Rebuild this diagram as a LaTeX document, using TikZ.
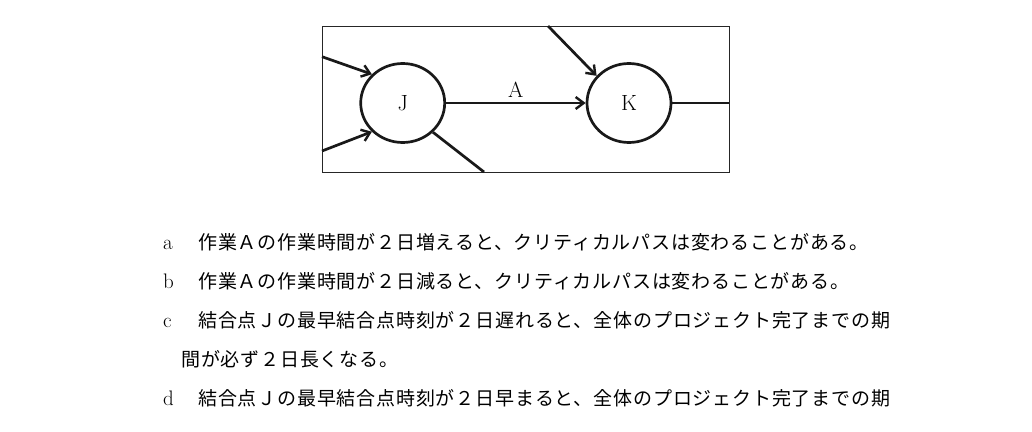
\documentclass[tikz,border=0pt]{standalone}
\usepackage{fontspec}
\usetikzlibrary{arrows.meta,shapes.geometric}
\newfontfamily\jp[LetterSpace=4.3]{Noto Sans CJK JP}
\begin{document}
\begin{tikzpicture}[x=1pt,y=-1pt,
  thick line/.style={line width=2.7pt,draw=black!90},
  arr/.style={thick line,-{Straight Barb[length=8pt,width=12pt,line width=2.4pt]}},
  event/.style={ellipse,thick line,minimum width=84pt,minimum height=79pt,inner sep=0pt,font=\fontsize{22}{24}\selectfont},
  lbl/.style={font=\fontsize{22}{24}\selectfont,inner sep=0pt},
  item/.style={anchor=base west,inner sep=0pt,font=\fontsize{21}{23}\selectfont},
  txt/.style={anchor=base west,inner sep=0pt,font=\fontsize{19}{21}\selectfont\jp}]
\useasboundingbox[fill=white] (0,0) rectangle (1032,431);
% frame
\node[draw=black!85,line width=1.3pt,minimum width=407pt,minimum height=146pt,inner sep=0pt,anchor=north west] (frame) at (322,26) {};
% events
\node[event] (J) at (402.7,103) {J};
\node[event] (K) at (629,103) {K};
% free ends on the frame
\coordinate (inA) at (322,56.7);
\coordinate (inB) at (322,151);
\coordinate (outJ) at (484,172);
\coordinate (inK) at (548,26);
\coordinate (outK) at (729,103);
% connectors
\draw[arr] (inA) -- (J.137);
\draw[arr] (inB) -- (J.223);
\draw[thick line] (J.316) -- (outJ);
\draw[arr] (inK) -- (K.140);
\draw[thick line] (K.east) -- (outK);
\draw[arr] (J.east) -- node[lbl,above=4pt] (A) {A} (K.west);
% statements
\node[item] (ia) at (163,249) {a};
\node[txt] (ta) at (198,249) {作業Ａの作業時間が２日増えると、クリティカルパスは変わることがある。};
\node[item] (ib) at (163,288) {b};
\node[txt] (tb) at (198,288) {作業Ａの作業時間が２日減ると、クリティカルパスは変わることがある。};
\node[item] (ic) at (163,327) {c};
\node[txt] (tc) at (198,327) {結合点Ｊの最早結合点時刻が２日遅れると、全体のプロジェクト完了までの期};
\node[txt] (tc2) at (181,366) {間が必ず２日長くなる。};
\node[item] (id) at (163,405) {d};
\node[txt] (td) at (198,405) {結合点Ｊの最早結合点時刻が２日早まると、全体のプロジェクト完了までの期};
\end{tikzpicture}
\end{document}
